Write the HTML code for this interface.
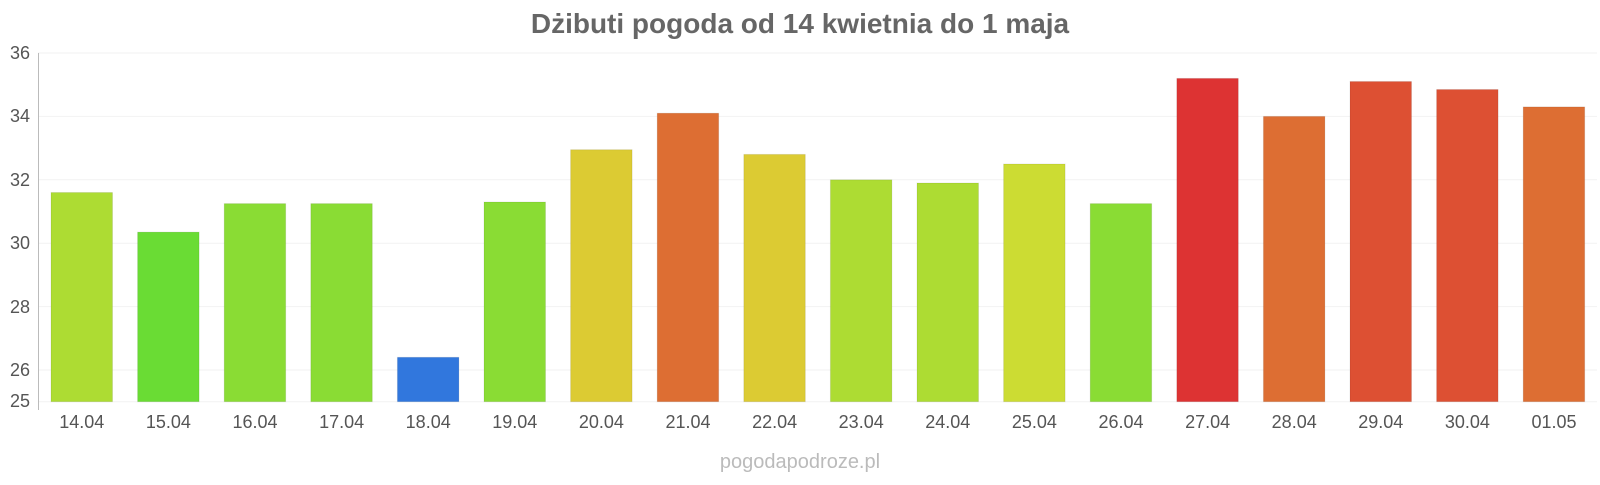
<!DOCTYPE html>
<html><head><meta charset="utf-8"><style>
body{margin:0;background:#fff;}
svg text{font-family:"Liberation Sans",sans-serif;}
</style></head><body>
<svg width="1600" height="480" xmlns="http://www.w3.org/2000/svg">
<text x="800" y="33" text-anchor="middle" font-size="28" font-weight="bold" fill="#666">Dżibuti pogoda od 14 kwietnia do 1 maja</text>
<g stroke="#f2f2f2" stroke-width="1">
<line x1="38" x2="1597" y1="53" y2="53"/><line x1="38" x2="1597" y1="116.4" y2="116.4"/>
<line x1="38" x2="1597" y1="179.8" y2="179.8"/><line x1="38" x2="1597" y1="243.2" y2="243.2"/>
<line x1="38" x2="1597" y1="306.6" y2="306.6"/><line x1="38" x2="1597" y1="370" y2="370"/>
<line x1="38" x2="1597" y1="401.7" y2="401.7"/>
</g>
<line x1="38.5" x2="38.5" y1="53" y2="410" stroke="#bbb"/>
<g font-size="18" fill="#555" text-anchor="end">
<text x="30" y="59">36</text><text x="30" y="122">34</text><text x="30" y="186">32</text>
<text x="30" y="249">30</text><text x="30" y="313">28</text><text x="30" y="376">26</text><text x="30" y="407">25</text>
</g>
<g stroke="rgba(0,0,0,0.08)">
<rect x="51" y="192.5" width="61.5" height="209.2" fill="#addc33"/>
<rect x="137.6" y="232.1" width="61.5" height="169.6" fill="#6adc34"/>
<rect x="224.2" y="203.6" width="61.5" height="198.1" fill="#8adc34"/>
<rect x="310.8" y="203.6" width="61.5" height="198.1" fill="#8adc34"/>
<rect x="397.4" y="357.3" width="61.5" height="44.4" fill="#3177dd"/>
<rect x="484" y="202" width="61.5" height="199.7" fill="#8adc34"/>
<rect x="570.6" y="149.7" width="61.5" height="252" fill="#dccb33"/>
<rect x="657.2" y="113.2" width="61.5" height="288.5" fill="#dd6e33"/>
<rect x="743.8" y="154.4" width="61.5" height="247.3" fill="#dccb33"/>
<rect x="830.4" y="179.8" width="61.5" height="221.9" fill="#addc33"/>
<rect x="917" y="183" width="61.5" height="218.7" fill="#addc33"/>
<rect x="1003.6" y="164" width="61.5" height="237.7" fill="#ccdc33"/>
<rect x="1090.2" y="203.6" width="61.5" height="198.1" fill="#8adc34"/>
<rect x="1176.8" y="78.4" width="61.5" height="323.3" fill="#dd3333"/>
<rect x="1263.4" y="116.4" width="61.5" height="285.3" fill="#dd6e33"/>
<rect x="1350" y="81.5" width="61.5" height="320.2" fill="#dd5033"/>
<rect x="1436.6" y="89.5" width="61.5" height="312.2" fill="#dd5033"/>
<rect x="1523.2" y="106.9" width="61.5" height="294.8" fill="#dd6e33"/>
</g>
<g font-size="18" fill="#555" text-anchor="middle">
<text x="81.8" y="428">14.04</text><text x="168.4" y="428">15.04</text><text x="255" y="428">16.04</text>
<text x="341.6" y="428">17.04</text><text x="428.2" y="428">18.04</text><text x="514.8" y="428">19.04</text>
<text x="601.4" y="428">20.04</text><text x="688" y="428">21.04</text><text x="774.6" y="428">22.04</text>
<text x="861.2" y="428">23.04</text><text x="947.8" y="428">24.04</text><text x="1034.4" y="428">25.04</text>
<text x="1121" y="428">26.04</text><text x="1207.6" y="428">27.04</text><text x="1294.2" y="428">28.04</text>
<text x="1380.8" y="428">29.04</text><text x="1467.4" y="428">30.04</text><text x="1554" y="428">01.05</text>
</g>
<text x="800" y="468" text-anchor="middle" font-size="20" fill="#bbb">pogodapodroze.pl</text>
</svg>
</body></html>
